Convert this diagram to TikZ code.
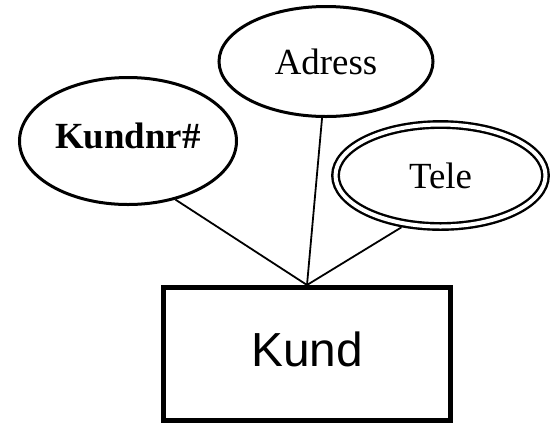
\documentclass[tikz,border=0pt]{standalone}
\usepackage{fontspec}
\setmainfont{Liberation Serif}
\newfontfamily\kundfont{Liberation Sans}
\usetikzlibrary{shapes.geometric}

\begin{document}
\begin{tikzpicture}[x=1bp,y=-1bp,
        attr/.style={ellipse,draw,line width=3bp,
            font=\fontsize{37}{40}\selectfont},
        conn/.style={line width=1.8bp}]
        \useasboundingbox (0,0) rectangle (550,424);
        \node[
            attr,
            text depth = 11bp,
            minimum width = 217bp,
            minimum height = 127bp] (kundnr) at (128,141) {\textbf{Kundnr\#}};
        \node[
            attr,
            minimum width = 214bp,
            minimum height = 110bp] (adress) at (326,61.5) {Adress};
        \node[
            attr,
            line width = 2.4bp,
            double,
            double distance = 4bp,
            outer sep = 4.4bp,
            minimum width = 210bp,
            minimum height = 102bp] (tele) at (440.5,175.5) {Tele};
        \node[
            rectangle,
            draw,
            line width = 5bp,
            minimum width = 287bp,
            minimum height = 133bp,
            font=\kundfont\fontsize{48}{52}\selectfont,
            text depth=10bp] (kund) at (307,354) {Kund};
        \draw[conn] (kundnr.-51) -- (kund.north);
        \draw[conn] (adress.-94) -- (kund.north);
        \draw[conn] (tele.-127) -- (kund.north);
    \end{tikzpicture}
\end{document}
